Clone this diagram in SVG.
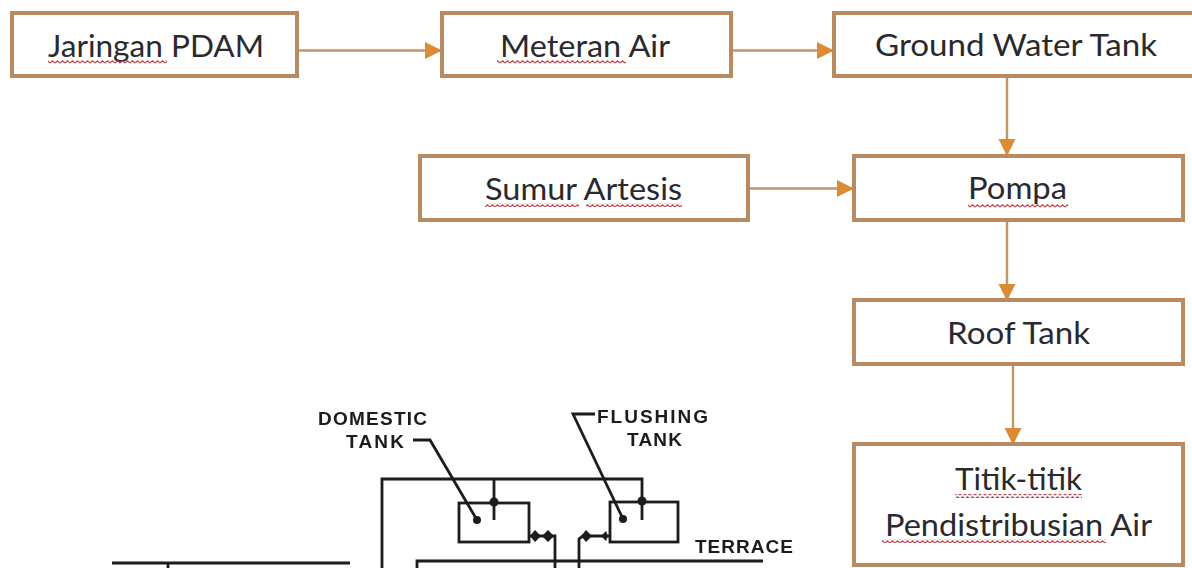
<svg xmlns="http://www.w3.org/2000/svg" width="1192" height="568" viewBox="0 0 1192 568">
<style>
.box{fill:#fff;stroke:#b98a5f;stroke-width:4}
.lbl{font-family:Lato,"Liberation Sans",sans-serif;font-size:30px;fill:#2a2a2e;text-anchor:middle}
.wave{fill:none;stroke:#c0444c;stroke-width:1.2}
.conn{fill:none;stroke:#c49565;stroke-width:2.4}
.head{fill:#dd8a35}
.ink{fill:none;stroke:#1c1c1c;stroke-width:2.8}
.dot{fill:#1c1c1c}
.mono{font-family:"Liberation Sans",Arial,sans-serif;font-weight:bold;font-size:19px;fill:#1c1c1c}
</style>
<defs>
<marker id="arr" markerUnits="userSpaceOnUse" markerWidth="18" markerHeight="18" refX="17" refY="9" orient="auto"><path class="head" d="M0,0.500 L17,9 L0,17.500 Z"/></marker>
<pattern id="zig" patternUnits="userSpaceOnUse" width="5" height="4"><path class="wave" d="M0,3 L2.5,0.8 L5,3"/></pattern>
<filter id="soft" x="-2%" y="-2%" width="104%" height="104%"><feGaussianBlur stdDeviation="0.5"/></filter>
</defs>
<rect width="1192" height="568" fill="#fff"/>
<g id="connectors">
<path class="conn" marker-end="url(#arr)" d="M298,50.500 H442"/>
<path class="conn" marker-end="url(#arr)" d="M732,50.500 H834"/>
<path class="conn" marker-end="url(#arr)" d="M749,188.500 H854"/>
<path class="conn" marker-end="url(#arr)" d="M1007,78 V156"/>
<path class="conn" marker-end="url(#arr)" d="M1007,222 V301"/>
<path class="conn" marker-end="url(#arr)" d="M1013,366 V445"/>
</g>
<g id="node-jaringan"><rect class="box" x="12" y="13" width="285" height="63"/><text class="lbl" x="156" y="57" textLength="216" lengthAdjust="spacingAndGlyphs">Jaringan PDAM</text><rect fill="url(#zig)" x="48" y="60" width="119" height="4"/></g>
<g id="node-meteran"><rect class="box" x="442" y="13" width="289" height="63"/><text class="lbl" x="585" y="57" textLength="170" lengthAdjust="spacingAndGlyphs">Meteran Air</text><rect fill="url(#zig)" x="497" y="60" width="129" height="4"/></g>
<g id="node-ground"><rect class="box" x="834" y="13" width="362" height="63"/><text class="lbl" x="1016" y="56" textLength="282" lengthAdjust="spacingAndGlyphs">Ground Water Tank</text></g>
<g id="node-sumur"><rect class="box" x="420" y="156" width="328" height="64"/><text class="lbl" x="583.500" y="200" textLength="197" lengthAdjust="spacingAndGlyphs">Sumur Artesis</text><rect fill="url(#zig)" x="485" y="203" width="94" height="4"/><rect fill="url(#zig)" x="586" y="203" width="96" height="4"/></g>
<g id="node-pompa"><rect class="box" x="854" y="156" width="329" height="64"/><text class="lbl" x="1017.500" y="199" textLength="99" lengthAdjust="spacingAndGlyphs">Pompa</text><rect fill="url(#zig)" x="968" y="204" width="100" height="4"/></g>
<g id="node-roof"><rect class="box" x="854" y="300" width="329" height="64"/><text class="lbl" x="1018.500" y="344" textLength="143" lengthAdjust="spacingAndGlyphs">Roof Tank</text></g>
<g id="node-titik"><rect class="box" x="854" y="444" width="329" height="121"/><text class="lbl" x="1018.500" y="490" textLength="127" lengthAdjust="spacingAndGlyphs">Titik-titik</text><rect fill="url(#zig)" x="955" y="494" width="127" height="4"/><text class="lbl" x="1018.500" y="536" textLength="267" lengthAdjust="spacingAndGlyphs">Pendistribusian Air</text><rect fill="url(#zig)" x="882" y="539" width="224" height="4"/></g>
<g id="schematic" filter="url(#soft)">
<path class="ink" d="M112,563 H350 M168,563 V568 M382,568 V479 H642 V502 M494,479 V520 M417,568 V561 H763"/>
<rect class="ink" x="459" y="503" width="70" height="39"/>
<rect class="ink" x="610" y="502" width="68" height="40"/>
<path class="ink" d="M642,502 V520 M413,440 H430 L477,520 M595,414 H573 L623,519"/>
<path class="ink" d="M529,536 H555 V568 M579,568 V539 L583,536 H610"/>
<circle class="dot" cx="477" cy="520" r="4"/><circle class="dot" cx="623" cy="519" r="4"/>
<circle class="dot" cx="494" cy="502" r="4.500"/><circle class="dot" cx="642" cy="501" r="4.500"/>
<path class="dot" d="M530,536 L535,530 L541,536 L535,542 Z M542,536 L548,530 L554,536 L548,542 Z M581,536 L586,530 L592,536 L586,542 Z M601,536 L606,531 L608,536 L606,541 Z"/>
<text class="mono" x="318" y="425" textLength="109" lengthAdjust="spacing">DOMESTIC</text>
<text class="mono" x="346" y="448" textLength="58" lengthAdjust="spacing">TANK</text>
<text class="mono" x="597" y="423" textLength="111" lengthAdjust="spacing">FLUSHING</text>
<text class="mono" x="627" y="446" textLength="55" lengthAdjust="spacing">TANK</text>
<text class="mono" x="695" y="553" textLength="98" lengthAdjust="spacing">TERRACE</text>
</g>
</svg>
